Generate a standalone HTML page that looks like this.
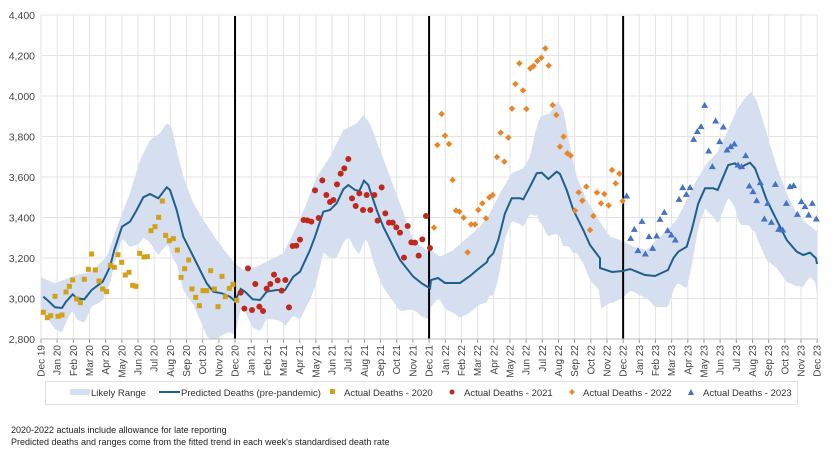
<!DOCTYPE html>
<html><head><meta charset="utf-8"><style>
body{margin:0;background:#fff;width:837px;height:456px;overflow:hidden;font-family:"Liberation Sans",sans-serif}
svg{display:block}
</style></head><body>
<svg id="s" width="837" height="456" xmlns="http://www.w3.org/2000/svg" font-family="Liberation Sans, sans-serif"></svg>
<script>
const S=document.getElementById('s');let h='';
const X0=41,MW=16.17,Y=v=>15+(4400-v)*0.2025;
for(let v=2800;v<=4400;v+=200){const y=Y(v);h+=`<line x1="${X0}" x2="817" y1="${y}" y2="${y}" stroke="#e3e3e3"/>`;
h+=`<text x="35" y="${y+4}" font-size="10.5" text-anchor="end" fill="#444">${v.toLocaleString('en-US')}</text>`;}
const mons=['Dec','Jan','Feb','Mar','Apr','May','Jun','Jul','Aug','Sep','Oct','Nov'];
for(let i=0;i<=48;i++){const x=X0+i*MW;h+=`<line x1="${x}" x2="${x}" y1="15" y2="339" stroke="#e3e3e3"/>`;
h+=`<line x1="${x}" x2="${x}" y1="339" y2="343" stroke="#999"/>`;
const yr=19+Math.floor((i+11)/12);const lab=mons[i%12]+' '+yr;
h+=`<text transform="translate(${x+3.5},345) rotate(-90)" font-size="10" text-anchor="end" fill="#444">${lab}</text>`;}
const z4=(a)=>a.map(p=>[30+p[0]/3,110+p[1]/3]), z3=(a)=>a.map(p=>[420+p[0]/3,p[1]/3]);
let pred=[].concat(z4([[40,560],[52,570],[75,592],[96,594],[108,575],[128,553],[140,565],[163,568],[185,540],[218,515],[240,470],[253,420],[276,350],[300,335],[320,300],[340,262],[360,252],[385,265],[410,232],[420,240],[440,300],[460,380],[485,430],[510,480],[530,520],[550,545],[575,550],[600,560],[615,573],[632,537],[645,545],[668,568],[690,570],[710,545],[740,540],[765,540],[790,500],[810,485],[840,420],[855,380],[880,305],[900,300],[920,280],[940,238],[955,225],[975,240],[988,243],[1002,212],[1015,225],[1040,300],[1060,350],[1090,410],[1110,450],[1150,500],[1175,520],[1200,535]]),
[[431,280],[438,278],[445,283],[460,283],[470,276],[477,270],[487,262]],
z3([[205,775],[220,760],[235,720],[255,640],[275,595],[300,595],[310,598],[330,560],[350,520],[365,518],[385,537],[410,515],[420,522],[440,570],[460,630],[490,690],[510,735],[540,775]]),
[[600,268],[612,272],[623,271],[630,269],[645,275],[655,276],[668,270]],
z3([[760,775],[775,755],[800,740],[815,690],[835,610],[855,565],[880,565],[893,570],[910,530],[925,495],[945,490],[960,505],[975,495],[990,488],[1005,505],[1020,545],[1040,600],[1060,640],[1080,680],[1100,720],[1130,755],[1150,765],[1170,758],[1188,775]]),[[817,264]]);
let up=[].concat(z4([[30,500],[75,520],[100,510],[140,495],[185,485],[230,440],[265,340],[300,250],[330,150],[360,90],[390,70],[410,40],[425,50],[440,120],[460,200],[490,280],[520,330],[560,390],[590,430],[615,460],[640,480],[680,470],[720,450],[760,430],[790,370],[830,280],[860,200],[900,140],[940,60],[980,40],[1000,15],[1020,40],[1050,120],[1080,200],[1110,280],[1150,390],[1200,430]]),
z3([[30,748],[60,770],[100,750],[140,715],[180,680],[210,640],[240,580],[275,520],[310,505],[330,470],[345,400],[360,350],[390,340],[412,305],[430,330],[450,440],[470,530],[500,600],[530,650],[570,710],[600,720],[612,725],[640,740],[680,750],[710,720],[740,690],[770,660],[800,600],[830,540],[860,490],[890,460],[920,400],[950,330],[975,295],[993,275],[1010,300],[1040,400],[1070,500],[1100,580],[1130,640],[1160,670],[1185,690],[1191,693]]));
function interp(a,x){if(x<=a[0][0])return a[0][1];for(let i=1;i<a.length;i++)if(a[i][0]>=x){const p=a[i-1],q=a[i];return p[1]+(q[1]-p[1])*(x-p[0])/(q[0]-p[0]||1);}return a[a.length-1][1];}
let U=[],L=[];for(let x=X0;x<=817;x+=2){const p=interp(pred,x),u=Math.min(interp(up,x),p-8);U.push([x,u]);L.push([x,Math.min(p+(p-u)*0.9,339)]);}
h+=`<polygon fill="#d5dff0" points="${U.concat(L.reverse()).map(p=>p[0].toFixed(1)+','+p[1].toFixed(1)).join(' ')}"/>`;
[12,24,36].forEach(i=>{const x=X0+i*MW;h+=`<line x1="${x}" x2="${x}" y1="16" y2="339" stroke="#000" stroke-width="2"/>`;});
h+=`<polyline fill="none" stroke="#1f5f8b" stroke-width="2" points="${pred.map(p=>p[0].toFixed(1)+','+p[1].toFixed(1)).join(' ')}"/>`;
h+=`<line x1="${X0}" x2="817" y1="339" y2="339" stroke="#bbb"/>`;
const sq=z4([[40,607],[52,623],[62,617],[75,559],[84,619],[96,615],[108,546],[118,529],[128,510],[140,567],[151,578],[163,508],[175,478],[185,432],[196,480],[207,513],[218,537],[230,545],[241,466],[253,472],[264,434],[275,457],[286,495],[297,487],[308,526],[318,529],[329,430],[342,441],[352,440],[363,362],[375,350],[386,322],[397,273],[407,376],[418,392],[430,386],[442,420],[453,502],[464,476],[476,450],[486,537],[497,562],[508,587],[519,542],[530,542],[542,482],[553,537],[564,590],[576,499],[586,560],[598,535],[609,523],[620,571]]);
sq.forEach(p=>h+=`<rect x="${p[0]-2.5}" y="${p[1]-2.5}" width="5" height="5" fill="#d4a017"/>`);
const ci=z4([[632,548],[643,596],[654,475],[666,600],[676,522],[688,590],[699,603],[710,536],[721,522],[732,494],[743,511],[755,542],[766,510],[777,592],[788,408],[799,407],[810,389],[821,330],[832,331],[844,335],[855,241],[866,324],[877,211],[889,255],[900,276],[910,270],[921,223],[932,191],[943,175],[955,147],[966,265],[977,288],[988,250],[999,300],[1010,255],[1021,300],[1033,255],[1043,332],[1055,232],[1066,310],[1077,338],[1088,338],[1099,352],[1110,368],[1122,443],[1133,348],[1144,397],[1155,398],[1166,437],[1177,388],[1188,318],[1200,414]]);
ci.forEach(p=>h+=`<circle cx="${p[0]}" cy="${p[1]}" r="3" fill="#c0281e"/>`);
const di=z3([[42,683],[52,435],[65,342],[75,407],[87,432],[98,540],[108,632],[118,635],[131,653],[143,757],[153,673],[165,673],[175,630],[187,610],[198,655],[208,592],[218,585],[231,471],[242,398],[253,485],[265,413],[276,326],[286,252],[298,190],[309,271],[319,327],[331,205],[341,198],[352,183],[364,173],[376,145],[386,197],[398,315],[409,345],[420,440],[431,410],[442,460],[452,467],[465,632],[476,577],[487,602],[499,560],[510,690],[520,648],[531,578],[543,610],[553,582],[566,616],[576,510],[587,550],[598,521],[608,603]]);
di.forEach(p=>h+=`<rect x="${p[0]-2.3}" y="${p[1]-2.3}" width="4.6" height="4.6" fill="#e8862a" transform="rotate(45 ${p[0]} ${p[1]})"/>`);
const tr=z3([[620,588],[632,715],[643,688],[654,752],[666,664],[676,762],[687,710],[698,745],[710,708],[720,658],[733,637],[743,692],[754,705],[766,720],[777,598],[788,563],[799,583],[810,563],[821,418],[832,395],[843,380],[854,316],[866,453],[877,500],[887,363],[899,425],[910,381],[921,450],[932,440],[943,432],[954,495],[965,500],[977,467],[988,558],[999,575],[1010,602],[1021,548],[1033,657],[1043,610],[1054,667],[1066,553],[1076,688],[1088,690],[1099,610],[1110,560],[1121,557],[1132,643],[1144,605],[1155,620],[1166,645],[1177,610],[1189,657]]);
tr.forEach(p=>h+=`<polygon points="${p[0]},${p[1]-3.5} ${p[0]+3.5},${p[1]+2.5} ${p[0]-3.5},${p[1]+2.5}" fill="#4472c4"/>`);
h+=`<rect x="45.5" y="381.5" width="752" height="23" fill="#fff" stroke="#e0e0e0"/>`;
h+=`<rect x="70" y="389" width="20" height="6" fill="#d5dff0"/><text x="91" y="396" font-size="9.5" fill="#333">Likely Range</text>`;
h+=`<line x1="159" x2="180" y1="392" y2="392" stroke="#1f5f8b" stroke-width="2"/><text x="181" y="396" font-size="9.5" fill="#333">Predicted Deaths (pre-pandemic)</text>`;
h+=`<rect x="330" y="389" width="5" height="5" fill="#d4a017"/><text x="344" y="396" font-size="9.5" fill="#333">Actual Deaths - 2020</text>`;
h+=`<circle cx="452" cy="392" r="2.5" fill="#c0281e"/><text x="464" y="396" font-size="9.5" fill="#333">Actual Deaths - 2021</text>`;
h+=`<rect x="570" y="390" width="4" height="4" fill="#e8862a" transform="rotate(45 572 392)"/><text x="583" y="396" font-size="9.5" fill="#333">Actual Deaths - 2022</text>`;
h+=`<polygon points="691,389 694,395 688,395" fill="#4472c4"/><text x="703" y="396" font-size="9.5" fill="#333">Actual Deaths - 2023</text>`;
h+=`<text x="11" y="433" font-size="9" fill="#222">2020-2022  actuals include allowance for late reporting</text>`;
h+=`<text x="11" y="445" font-size="9" fill="#222">Predicted deaths and ranges come from the fitted trend in each week's standardised death rate</text>`;
S.innerHTML=h;
</script>
</body></html>
